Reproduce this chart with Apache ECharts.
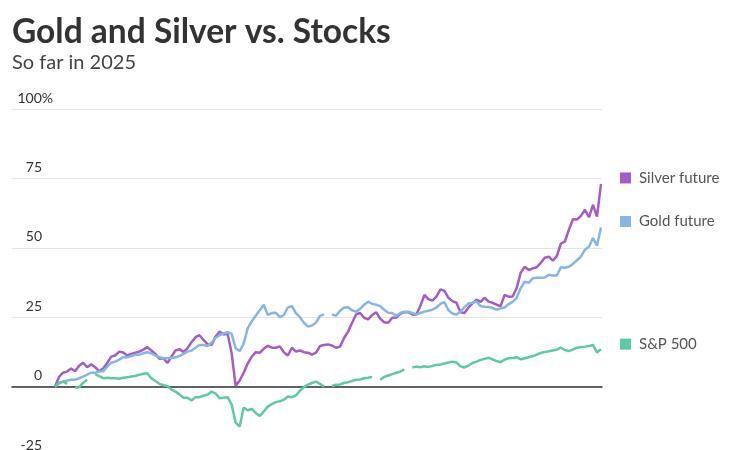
<!DOCTYPE html>
<html>
<head>
<meta charset="utf-8">
<script src="https://cdn.jsdelivr.net/npm/echarts@6/dist/echarts.min.js"></script>
<style>
html,body{margin:0;padding:0;background:#fff;overflow:hidden;}
#chart{width:750px;height:460px;}
</style>
</head>
<body>
<div id="chart"></div>
<script>
// Percent change so far in 2025 (trading-day index along x)
const seriesNames = ['Silver future', 'Gold future', 'S&P 500'];
const yTicks = [-25, 0, 25, 50, 75, 100];

const silver = [0,3.5,5,5.4,6.5,5.5,7.5,8.6,7,8,7,5.5,6.5,8.5,10.8,11.2,12.6,12.3,11.2,11.8,
12.2,12.6,13.3,14.2,13,11.8,10,10.2,8.5,10.8,13,13.5,12.5,13.8,16,17.8,18.5,16.8,15.3,15,
18,19.8,18.8,19,12,0.3,2.2,5,8.3,10.8,12.4,12.2,13.6,14.7,14,14,14.5,12.4,11.2,14,
12.6,13,12.4,12.2,11.5,12.2,14.6,15,15.2,14.8,14,14.4,17.5,19.8,23,26,26.5,24.8,24.2,25.8,
26.8,24.5,23.2,23,24.8,24.9,26.2,26.8,26.8,26,26,29,33,31.5,31,32.4,35,34.5,32,30.8,
30.2,26.8,26.5,28.5,30,31.3,30.5,32,30.6,30.2,29.5,29,33,32.4,32.5,35.5,41,43.2,42,42.6,
43,44.6,46.4,46.8,45.4,47,51.5,52.2,56.5,60.3,60.2,61.5,63.7,61,65.5,61.2,73];

const gold = [0,1.2,1.8,2.2,2.5,2.5,3,3.6,4.3,5,5,5.4,5.5,7.2,8.6,9,9.7,10.6,10.6,11,
11.5,11.5,12,12.4,12,11.2,10.6,10.2,10.2,10.3,10.6,11,11.8,12.6,13,14,15,15,14.6,15.8,
17.6,18.5,19.2,19.6,19,13.8,12.8,15.5,21,23.5,25.5,27.5,29.5,25.8,26.5,26.6,25,25.8,28.5,29,
26.5,25,23,21.6,22,23,25.5,26,null,26,25.5,27.3,28.5,28.6,27.5,27,28,29.5,30.6,29.8,
29.5,29,27.7,26.6,26.5,25.5,26.5,27,27,26.5,26,26.5,27,27.3,27.7,28.5,29.8,30.4,27.5,26.3,
26,27,28.6,30,30.2,30.6,29,28.8,28.7,28.3,27.7,28.2,28.5,29.7,30.5,32,35.5,37.8,37.4,39,
39.2,39.2,39.3,40.3,40,40,43,42.8,43.2,44.2,45.5,46.8,49.3,50.4,53.5,50.8,57.3];

const sp500 = [0,1.3,1.8,1,null,-0.4,-0.2,1.4,2.5,null,4.5,3.8,3,3.2,3,3,2.8,3.2,3.4,3.6,
3.8,4.3,4.6,4.8,3,2,1,0.5,0.2,-1.1,-1.8,-2.8,-4,-4,-5,-3.8,-3.8,-3.3,-2.9,-1.8,
-2.5,-4.2,-4,-3.8,-6.5,-13,-14.4,-7.5,-8.5,-8,-9.5,-10.6,-9,-7.2,-6.3,-5.6,-5.3,-4.7,-3.6,-3.8,
-3.2,-1.5,-0.2,0.7,1.3,1.8,1,0,null,0.2,0.7,0.8,1.3,1.6,2,2.5,2.6,3,3.2,3.5,
null,2.5,3.5,4,4.5,5,5.4,6.2,null,6.9,7.2,7,7.3,7.1,7.4,7.9,7.9,8.3,8.7,9,
8.7,7.3,6.9,7.6,8.5,9,9.6,10,10.4,9.8,9.2,8.8,9.7,10.2,10.3,10.6,9.8,10.2,10.6,11,
11.5,12.1,12.5,12.7,13,13.3,14,13.2,12.8,13.3,14,14.3,14.4,14.6,15,12.3,13.5];

const colors = ['#a35dc7', '#86b6e6', '#5ec9a6'];
const labelOffsets = [-6, -6, -5];
const allSeries = [silver, gold, sp500];

const chart = echarts.init(document.getElementById('chart'));
const n = silver.length;
const step = 546 / (n - 1);

chart.setOption({
  animation: false,
  backgroundColor: '#fff',
  title: [
    { text: 'Gold and Silver vs. Stocks', left: 12, top: 15, padding: 0,
      textStyle: { fontFamily: 'Lato', fontWeight: 'bold', fontSize: 33.5, color: '#333' } },
    { text: 'So far in 2025', left: 12, top: 53, padding: 0,
      textStyle: { fontFamily: 'Lato', fontWeight: 'normal', fontSize: 20, color: '#444' } }
  ],
  grid: { left: 12, top: 109, width: 590, height: 347, containLabel: false },
  xAxis: {
    type: 'value', min: -43 / step, max: (n - 1) + 1 / step,
    axisLine: { show: true, onZero: true, lineStyle: { color: '#333', width: 1.5 } },
    axisTick: { show: false }, axisLabel: { show: false }, splitLine: { show: false }
  },
  yAxis: {
    type: 'value', min: yTicks[0], max: yTicks[yTicks.length - 1], interval: 25,
    axisLine: { show: false }, axisTick: { show: false },
    splitLine: { lineStyle: { color: '#e6e6e6', width: 1 } },
    axisLabel: {
      align: 'left', margin: 0, verticalAlign: 'bottom', padding: [0, 0, 4, 0],
      fontFamily: 'Lato', fontSize: 14, color: '#333',
      formatter: v => v === 100 ? '{m|100%}' : '{n|' + v + '}',
      rich: {
        n: { fontFamily: 'Lato', fontSize: 14, color: '#333', width: 30, align: 'right' },
        m: { fontFamily: 'Lato', fontSize: 14, color: '#333', width: 41, align: 'right' }
      }
    }
  },
  series: allSeries.map((arr, k) => ({
    name: seriesNames[k],
    type: 'line',
    data: arr.map((v, i) => [i, v]),
    showSymbol: false,
    connectNulls: false,
    lineStyle: { color: colors[k], width: 2.5 },
    itemStyle: { color: colors[k] },
    endLabel: {
      show: true, distance: 0, offset: [19, labelOffsets[k]],
      formatter: '{s|}{t|' + seriesNames[k] + '}',
      rich: {
        s: { width: 11, height: 11, backgroundColor: colors[k] },
        t: { fontFamily: 'Lato', fontSize: 15, color: '#555', padding: [0, 0, 0, 8] }
      }
    }
  }))
});
</script>
</body>
</html>
